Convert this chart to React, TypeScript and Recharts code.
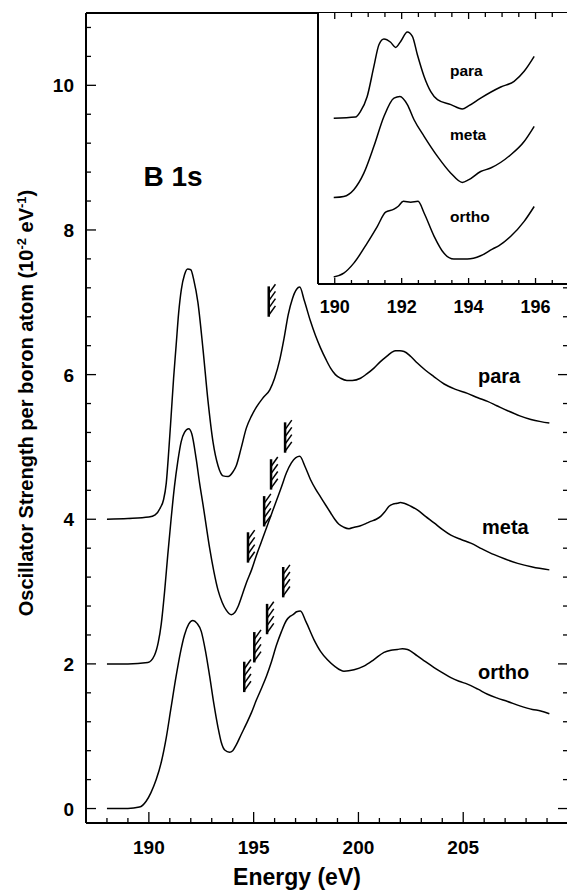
import React from "react";
import { LineChart, Line, XAxis, YAxis, ReferenceLine } from "recharts";

const FONT = "'Liberation Sans', Arial, Helvetica, sans-serif";

// main panel: photon energy (eV) vs oscillator strength (10^-2 eV^-1), curves offset as drawn
const paraE = [188.0, 189.0, 190.0, 190.3, 190.55, 190.7, 190.83, 190.95, 191.06, 191.18, 191.3, 191.42, 191.55, 191.7, 191.85, 192.0, 192.15, 192.34, 192.58, 192.82, 193.06, 193.3, 193.54, 193.78, 194.0, 194.17, 194.4, 194.65, 194.9, 195.13, 195.45, 195.77, 196.0, 196.25, 196.45, 196.65, 196.85, 197.05, 197.2, 197.42, 197.71, 197.95, 198.19, 198.45, 198.67, 198.9, 199.15, 199.45, 199.71, 200.1, 200.4, 200.74, 201.05, 201.38, 201.6, 201.78, 201.98, 202.18, 202.5, 202.81, 203.2, 203.61, 204.09, 204.6, 205.2, 205.7, 206.16, 206.6, 207.12, 207.7, 208.23, 208.7, 209.11];
const paraF = [4.0, 4.01, 4.03, 4.06, 4.16, 4.27, 4.5, 4.95, 5.42, 5.95, 6.4, 6.85, 7.18, 7.38, 7.46, 7.45, 7.3, 7.0, 6.36, 5.64, 5.07, 4.74, 4.6, 4.59, 4.65, 4.74, 4.98, 5.26, 5.43, 5.55, 5.68, 5.79, 5.95, 6.21, 6.5, 6.83, 7.05, 7.18, 7.21, 7.02, 6.74, 6.54, 6.37, 6.21, 6.09, 6.0, 5.95, 5.92, 5.92, 5.95, 6.01, 6.09, 6.18, 6.26, 6.31, 6.33, 6.33, 6.32, 6.25, 6.16, 6.06, 5.97, 5.87, 5.8, 5.74, 5.68, 5.63, 5.57, 5.5, 5.43, 5.38, 5.35, 5.33];

const metaE = [188.0, 189.0, 189.95, 190.27, 190.45, 190.59, 190.75, 190.9, 191.06, 191.22, 191.38, 191.54, 191.7, 191.9, 192.05, 192.26, 192.42, 192.58, 192.74, 192.9, 193.1, 193.3, 193.5, 193.7, 193.93, 194.1, 194.25, 194.45, 194.65, 194.9, 195.13, 195.37, 195.61, 195.85, 196.09, 196.33, 196.56, 196.8, 197.0, 197.2, 197.45, 197.71, 197.95, 198.19, 198.45, 198.67, 198.87, 199.07, 199.3, 199.55, 199.8, 200.1, 200.35, 200.58, 200.85, 201.06, 201.25, 201.46, 201.66, 201.86, 202.0, 202.18, 202.5, 202.81, 203.2, 203.61, 204.0, 204.41, 204.9, 205.36, 205.9, 206.48, 207.0, 207.6, 208.3, 209.11];
const metaF = [2.0, 2.0, 2.02, 2.12, 2.3, 2.55, 3.0, 3.5, 4.0, 4.45, 4.8, 5.07, 5.2, 5.25, 5.18, 4.83, 4.5, 4.21, 3.9, 3.6, 3.28, 3.02, 2.85, 2.74, 2.68, 2.71, 2.79, 2.95, 3.12, 3.3, 3.5, 3.69, 3.88, 4.07, 4.26, 4.45, 4.64, 4.78, 4.85, 4.87, 4.73, 4.55, 4.42, 4.31, 4.19, 4.09, 4.0, 3.93, 3.89, 3.87, 3.89, 3.91, 3.94, 3.97, 4.0, 4.04, 4.1, 4.18, 4.21, 4.22, 4.23, 4.22, 4.18, 4.13, 4.04, 3.95, 3.86, 3.78, 3.72, 3.67, 3.59, 3.51, 3.45, 3.39, 3.34, 3.3];

const orthoE = [188.0, 189.0, 189.55, 189.87, 190.1, 190.35, 190.6, 190.83, 191.05, 191.3, 191.5, 191.7, 191.9, 192.1, 192.3, 192.5, 192.7, 192.9, 193.1, 193.3, 193.45, 193.62, 193.85, 194.0, 194.17, 194.4, 194.65, 194.9, 195.13, 195.37, 195.61, 195.85, 196.09, 196.33, 196.56, 196.75, 196.88, 197.05, 197.23, 197.5, 197.87, 198.2, 198.51, 198.9, 199.31, 199.79, 200.26, 200.74, 201.22, 201.55, 201.86, 202.1, 202.34, 202.81, 203.2, 203.61, 204.0, 204.41, 204.8, 205.2, 205.7, 206.16, 206.6, 207.12, 207.7, 208.3, 208.7, 209.11];
const orthoF = [0.0, 0.0, 0.02, 0.1, 0.22, 0.4, 0.65, 0.98, 1.38, 1.83, 2.15, 2.4, 2.55, 2.6, 2.56, 2.45, 2.18, 1.83, 1.45, 1.12, 0.92, 0.81, 0.78, 0.8, 0.88, 1.02, 1.17, 1.33, 1.5, 1.66, 1.83, 2.03, 2.26, 2.45, 2.6, 2.66, 2.68, 2.72, 2.73, 2.58, 2.34, 2.17, 2.06, 1.96, 1.9, 1.92, 1.97, 2.06, 2.16, 2.19, 2.2, 2.21, 2.2, 2.11, 2.03, 1.95, 1.88, 1.81, 1.76, 1.72, 1.65, 1.58, 1.53, 1.48, 1.42, 1.37, 1.35, 1.31];

// ionization thresholds (hatched markers): energy and bottom of the marker
const edgeE = [195.72, 196.5, 195.83, 195.5, 194.73, 196.41, 195.64, 195.03, 194.55];
const edgeF = [6.8, 4.92, 4.41, 3.9, 3.4, 2.92, 2.41, 2.02, 1.61];

// inset: expanded 190-196 eV region, arbitrary units
const inParaE = [189.97, 190.62, 190.77, 190.97, 191.17, 191.32, 191.47, 191.67, 191.82, 191.97, 192.17, 192.32, 192.47, 192.67, 192.87, 193.07, 193.47, 193.81, 194.01, 194.36, 194.96, 195.36, 195.66, 195.96];
const inParaF = [6.12, 6.16, 6.37, 6.92, 8.03, 8.83, 9.04, 8.92, 8.73, 8.95, 9.3, 9.14, 8.46, 7.66, 7.1, 6.8, 6.62, 6.46, 6.58, 6.86, 7.27, 7.48, 7.85, 8.4];
const inMetaE = [189.97, 190.27, 190.57, 190.87, 191.17, 191.47, 191.77, 191.95, 192.17, 192.37, 192.67, 193.07, 193.47, 193.81, 194.01, 194.36, 194.66, 195.26, 195.66, 195.96];
const inMetaF = [3.19, 3.23, 3.48, 4.09, 5.08, 6.18, 6.86, 6.92, 6.62, 6.06, 5.45, 4.71, 4.09, 3.75, 3.85, 4.15, 4.28, 4.77, 5.26, 5.82];
const inOrthoE = [189.97, 190.27, 190.57, 190.97, 191.27, 191.52, 191.77, 191.89, 192.05, 192.27, 192.49, 192.67, 192.97, 193.26, 193.56, 193.96, 194.36, 194.71, 194.91, 195.26, 195.66, 195.96];
const inOrthoF = [0.26, 0.4, 0.77, 1.51, 2.12, 2.65, 2.76, 2.86, 3.05, 3.02, 3.05, 2.62, 1.76, 1.14, 0.92, 0.92, 1.04, 1.29, 1.42, 1.76, 2.31, 2.86];

// ticks
const xTicks = [188, 189, 190, 191, 192, 193, 194, 195, 196, 197, 198, 199, 200, 201, 202, 203, 204, 205, 206, 207, 208, 209];
const xMajor = [190, 195, 200, 205];
const yTicks = [0, 0.4, 0.8, 1.2, 1.6, 2, 2.4, 2.8, 3.2, 3.6, 4, 4.4, 4.8, 5.2, 5.6, 6, 6.4, 6.8, 7.2, 7.6, 8, 8.4, 8.8, 9.2, 9.6, 10, 10.4, 10.8];
const yMajor = [0, 2, 4, 6, 8, 10];
const inTicks = [190, 190.5, 191, 191.5, 192, 192.5, 193, 193.5, 194, 194.5, 195, 195.5, 196, 196.5];
const inMajor = [190, 192, 194, 196];

const rows = (e: number[], f: number[]) => e.map((x, i) => ({ e: x, f: f[i] }));

const PLOT_R = 568;
const IN_H = 271;
const MARK_H = 0.42;
const HATCH_AT = [0.02, 0.12, 0.22, 0.32];

function MainYTick(props: any) {
  const { x, y, payload } = props;
  const major = yMajor.includes(payload.value);
  const len = major ? 10 : 5;
  return (
    <g>
      <line x1={x} x2={x + len} y1={y} y2={y} stroke="#000" strokeWidth={1.3} />
      <line x1={PLOT_R - len} x2={PLOT_R} y1={y} y2={y} stroke="#000" strokeWidth={1.3} />
      {major && (
        <text x={x - 12} y={y + 7} textAnchor="end" fontSize={19} fontWeight="bold" fontFamily={FONT} fill="#000">
          {payload.value}
        </text>
      )}
    </g>
  );
}

function MainXTick(props: any) {
  const { x, y, payload } = props;
  const major = xMajor.includes(payload.value);
  return (
    <g>
      <line x1={x} x2={x} y1={y} y2={y - (major ? 11 : 5)} stroke="#000" strokeWidth={1.3} />
      {major && (
        <text x={x} y={y + 31} textAnchor="middle" fontSize={19} fontWeight="bold" fontFamily={FONT} fill="#000">
          {payload.value}
        </text>
      )}
    </g>
  );
}

function InsetXTick(props: any) {
  const { x, y, payload } = props;
  const major = inMajor.includes(payload.value);
  const len = major ? 6 : 4;
  return (
    <g>
      <line x1={x} x2={x} y1={y} y2={y - len} stroke="#000" strokeWidth={1.3} />
      <line x1={x} x2={x} y1={y - IN_H} y2={y - IN_H + len} stroke="#000" strokeWidth={1.3} />
      {major && (
        <text x={x} y={y + 29} textAnchor="middle" fontSize={18} fontWeight="bold" fontFamily={FONT} fill="#000">
          {payload.value}
        </text>
      )}
    </g>
  );
}

const curve = { type: "monotone" as const, dataKey: "f", stroke: "#000", strokeWidth: 1.5, dot: false, isAnimationActive: false };

export default function App() {
  const edges = edgeE.map((e, i) => ({ e, f: edgeF[i] }));
  const txt = { fontFamily: FONT, fontWeight: "bold" as const, fill: "#000" };
  return (
    <div style={{ position: "absolute", left: 0, top: 0, width: 567, height: 894, overflow: "hidden", background: "#fff" }}>
      <div style={{ position: "absolute", left: 0, top: 0 }}>
        <LineChart width={570} height={894} margin={{ top: 13, right: 2, bottom: 41, left: 0 }}>
          <XAxis type="number" dataKey="e" domain={[187, 210]} ticks={xTicks} interval={0} height={30}
            tickSize={0} tickMargin={0} tickLine={false} axisLine={{ stroke: "#000", strokeWidth: 2 }}
            tick={MainXTick} allowDataOverflow />
          <YAxis type="number" domain={[-0.2, 11]} ticks={yTicks} interval={0} width={86}
            tickSize={0} tickMargin={0} tickLine={false} axisLine={{ stroke: "#000", strokeWidth: 2 }}
            tick={MainYTick} allowDataOverflow />
          <ReferenceLine y={11} stroke="#000" strokeWidth={2} />
          <Line data={rows(paraE, paraF)} {...curve} />
          <Line data={rows(metaE, metaF)} {...curve} />
          <Line data={rows(orthoE, orthoF)} {...curve} />
          {edges.map((m, i) => (
            <ReferenceLine key={"v" + i} ifOverflow="visible" stroke="#000" strokeWidth={2.5}
              segment={[{ x: m.e, y: m.f }, { x: m.e, y: m.f + MARK_H }]} />
          ))}
          {edges.flatMap((m, i) =>
            HATCH_AT.map((h, j) => (
              <ReferenceLine key={`h${i}-${j}`} ifOverflow="visible" stroke="#000" strokeWidth={1.5}
                segment={[{ x: m.e, y: m.f + h }, { x: m.e + 0.32, y: m.f + h + 0.13 }]} />
            ))
          )}
        </LineChart>
      </div>

      <div style={{ position: "absolute", left: 318, top: 13, width: 251, height: IN_H, background: "#fff" }} />
      <div style={{ position: "absolute", left: 316, top: 13 }}>
        <LineChart width={253} height={IN_H + 40} margin={{ top: 0, right: 0, bottom: 0, left: 2 }}>
          <XAxis type="number" dataKey="e" domain={[189.5, 197]} ticks={inTicks} interval={0} height={40}
            tickSize={0} tickMargin={0} tickLine={false} axisLine={{ stroke: "#000", strokeWidth: 2 }}
            tick={InsetXTick} allowDataOverflow />
          <YAxis hide type="number" domain={[0, 10]} allowDataOverflow />
          <ReferenceLine x={189.5} stroke="#000" strokeWidth={2} />
          <Line data={rows(inParaE, inParaF)} {...curve} />
          <Line data={rows(inMetaE, inMetaF)} {...curve} />
          <Line data={rows(inOrthoE, inOrthoF)} {...curve} />
        </LineChart>
      </div>

      <svg width={567} height={894} style={{ position: "absolute", left: 0, top: 0, pointerEvents: "none" }}>
        <text x={173} y={186} textAnchor="middle" fontSize={28} {...txt}>B 1s</text>
        <text x={478} y={383} fontSize={20} {...txt}>para</text>
        <text x={482} y={534} fontSize={20} {...txt}>meta</text>
        <text x={478} y={679} fontSize={20} {...txt}>ortho</text>
        <text x={450} y={76} fontSize={15.5} {...txt}>para</text>
        <text x={450} y={140} fontSize={15.5} {...txt}>meta</text>
        <text x={450} y={222} fontSize={15.5} {...txt}>ortho</text>
        <text x={297} y={885} textAnchor="middle" fontSize={23} {...txt}>Energy (eV)</text>
        <text x={33} y={403} transform="rotate(-90 33 403)" textAnchor="middle" fontSize={20} {...txt}>
          Oscillator Strength per boron atom (10<tspan dy={-7} fontSize={13}>-2</tspan>
          <tspan dy={7}> eV</tspan><tspan dy={-7} fontSize={13}>-1</tspan><tspan dy={7}>)</tspan>
        </text>
      </svg>
    </div>
  );
}
